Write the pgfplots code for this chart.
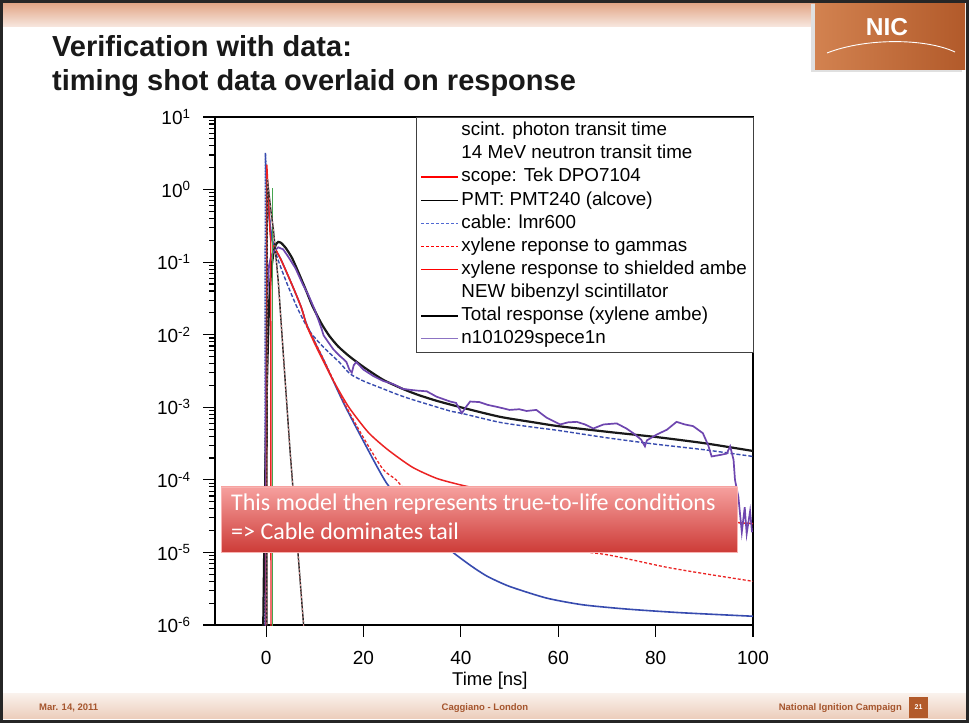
\documentclass[border=0pt]{standalone}
\usepackage{pgfplots}
\pgfplotsset{compat=1.18}
\usepackage{fontspec}
\setmainfont{Liberation Sans}
\newfontfamily\calibri{Carlito}
\definecolor{cblue}{RGB}{55,75,175}
\definecolor{cbluel}{RGB}{80,105,210}
\definecolor{cred}{RGB}{235,35,35}
\definecolor{cpurple}{RGB}{110,70,175}
\definecolor{cpurplel}{RGB}{140,115,195}
\definecolor{cgreen}{RGB}{70,165,80}
\definecolor{cblack}{RGB}{25,25,25}
\definecolor{pmtpink}{RGB}{215,140,140}
\definecolor{nicA}{RGB}{210,130,80}
\definecolor{nicB}{RGB}{178,90,42}
\definecolor{bandA}{RGB}{226,168,138}
\definecolor{bandB}{RGB}{248,232,224}
\definecolor{footA}{RGB}{250,242,237}
\definecolor{footB}{RGB}{236,206,188}
\definecolor{footbrown}{RGB}{165,85,45}
\definecolor{calloutA}{RGB}{246,160,158}
\definecolor{calloutB}{RGB}{205,60,56}
\pgfplotsset{
  limg/.style={legend image code/.code={\draw[#1] (0pt,0pt) -- (37pt,0pt);}},
}
\begin{document}
\begin{tikzpicture}
\begin{scope}[x=1pt,y=1pt]
\useasboundingbox (0,0) rectangle (969,723);
\fill[white] (0,0) rectangle (969,723);
\shade[top color=bandA, bottom color=bandB] (3,696) rectangle (815,719);
\fill[black!12] (811,651) rectangle (962,719);
\shade[left color=nicA, right color=nicB] (815,653) rectangle (965,720);
\node[anchor=base, inner sep=0, text=white, font=\bfseries\fontsize{24.5}{24.5}\selectfont] at (887,687) {NIC};
\draw[white, line width=0.9pt] (827,670) .. controls (865,685) and (925,685) .. (955,671);
\shade[top color=footA, bottom color=footB] (3,5) rectangle (966,30);
\node[anchor=west, inner sep=0, text=footbrown, font=\bfseries\fontsize{9.5}{9.5}\selectfont] at (39,15) {Mar. 14, 2011};
\node[anchor=center, inner sep=0, text=footbrown, font=\bfseries\fontsize{9.5}{9.5}\selectfont] at (485,15) {Caggiano - London};
\node[anchor=east, inner sep=0, text=footbrown, font=\bfseries\fontsize{9.5}{9.5}\selectfont] at (902,15) {National Ignition Campaign};
\fill[nicB] (909,5) rectangle (928,26);
\node[inner sep=0, text=white, font=\bfseries\fontsize{7}{7}\selectfont] at (918.5,15.5) {21};
\node[anchor=base west, inner sep=0, text=black!90, font=\bfseries\fontsize{29}{34}\selectfont] at (52,666) {Verification with data:};
\node[anchor=base west, inner sep=0, text=black!90, font=\bfseries\fontsize{29}{34}\selectfont] at (52,632) {timing shot data overlaid on response};
\end{scope}
\begin{axis}[
  at={(215pt,98pt)}, anchor=south west, scale only axis,
  width=538pt, height=508pt,
  xmin=-10.5, xmax=100, ymin=1e-6, ymax=10,
  ymode=log, log basis y=10,
  xtick={0,20,40,60,80,100},
  xtick pos=bottom, ytick pos=left,
  tick align=outside,
  major tick length=12pt, minor tick length=6pt,
  every tick/.style={black, line width=1.1pt},
  axis line style={line width=1.5pt},
  /pgf/number format/assume math mode=true,
  ticklabel style={font=\fontsize{19}{19}\selectfont},
  xticklabel style={yshift=-11pt},
  yticklabel style={xshift=-9pt},
  yticklabel={\pgfmathtruncatemacro\e{round(\tick)}10\textsuperscript{\e}},
  xlabel={Time [ns]},
  xlabel style={font=\fontsize{18.5}{18.5}\selectfont, at={(axis description cs:0.511,0)}, anchor=base, yshift=-60pt},
  legend style={at={(1,1)}, anchor=north east, draw=black!75,
    fill=white, font=\fontsize{18.8}{18.8}\selectfont,
    inner xsep=4pt, inner ysep=2pt, row sep=0pt,
    cells={anchor=west},
    nodes={inner xsep=2pt, inner ysep=2.3pt, text height=14.2pt, text depth=4.3pt},
    /tikz/every even column/.append style={column sep=10pt}},
  clip=true,
]
% blue long tail (cable)
\addplot[forget plot, cblue, line width=1.4pt, dash pattern=on 4pt off 2pt, smooth, tension=0.4] coordinates {
(0.4,0.7) (0.9,0.3) (1.5,0.16) (2.2,0.12) (3.0,0.085) (4.6,0.045) (6.6,0.022) (9.0,0.011) (12.0,0.0065) (15.0,0.0042) (17.2,0.0029) (20.0,0.0023) (24.0,0.0018) (27.0,0.0015) (30.0,0.00128) (38.0,0.00088) (40.0,0.00083) (48.0,0.00062) (55.0,0.00053) (60.0,0.00048) (70.0,0.00038) (80.0,0.00031) (90.0,0.00026) (100.0,0.00021)};
% blue spike
\addplot[forget plot, cblue, line width=1.6pt, dash pattern=on 2pt off 1pt] coordinates {
(-0.25,9e-7) (-0.15,3.2) (0.1,1.2) (0.4,0.6) (0.9,0.28) (1.5,0.17)};
% steep blue
\addplot[forget plot, cblue, line width=1.6pt, smooth, tension=0.4] coordinates {
(0.4,0.6) (0.9,0.28) (1.5,0.17) (3.0,0.11) (4.6,0.063) (6.0,0.038) (7.3,0.023) (8.3,0.014) (10.0,0.0079) (12.0,0.0042) (15.9,0.00115) (20.0,0.00034) (24.8,8.9e-5) (30.0,3.55e-5) (35.0,1.66e-5) (38.0,1.05e-5) (42.0,6.6e-6) (45.4,4.7e-6) (50.0,3.4e-6) (57.6,2.35e-6) (65.0,1.9e-6) (74.0,1.66e-6) (85.0,1.48e-6) (100.0,1.32e-6)};
% red dashed (gammas)
\addplot[forget plot, cred, line width=1.3pt, dash pattern=on 3pt off 2pt, smooth, tension=0.4] coordinates {
(1.5,0.17) (3.0,0.11) (4.6,0.063) (6.0,0.038) (7.3,0.023) (8.3,0.014) (10.0,0.008) (12.0,0.0043) (15.9,0.0012) (20.0,0.00038) (24.0,0.00014) (26.7,1e-4) (30.0,5.6e-5) (35.0,3.16e-5) (40.0,2.24e-5) (50.0,1.48e-5) (60.0,1.12e-5) (70.0,9.3e-6) (82.0,6.3e-6) (90.0,5.1e-6) (100.0,4.0e-6)};
% red solid (shielded ambe)
\addplot[forget plot, cred, line width=1.5pt, smooth, tension=0.4] coordinates {
(1.5,0.17) (3.0,0.11) (4.6,0.063) (6.0,0.038) (7.3,0.023) (8.3,0.0135) (10.0,0.0075) (12.0,0.004) (14.0,0.0022) (17.0,0.001) (21.0,0.00045) (25.0,0.00026) (30.0,0.00015) (35.0,0.000105) (40.0,8.5e-5) (45.0,7.2e-5) (50.0,6.3e-5) (60.0,4.8e-5) (70.0,3.8e-5) (80.0,3.2e-5) (90.0,2.75e-5) (100.0,2.5e-5)};
% black total response
\addplot[forget plot, cblack, line width=2.2pt, smooth, tension=0.4] coordinates {
(-0.6,9e-7) (-0.3,3.2e-5) (0,6.3e-4) (0.3,5e-3) (0.6,0.025) (1.0,0.071) (1.5,0.132) (2.0,0.174) (2.5,0.19) (3.0,0.186) (4.0,0.158) (5.3,0.115) (6.5,0.076) (8.0,0.044) (9.5,0.025) (11.4,0.0141) (13.0,0.0096) (14.8,0.0069) (17.0,0.0051) (20.0,0.0036) (24.0,0.0024) (28.0,0.0018) (31.0,0.0015) (35.0,0.00123) (40.0,0.001) (48.0,0.00074) (55.0,0.00062) (60.0,0.00055) (70.0,0.00046) (80.0,0.00039) (90.0,0.00032) (100.0,0.00025)};
% purple data
\addplot[forget plot, cpurple, line width=1.7pt] coordinates {
(-0.3,9e-7) (-0.1,9e-7) (-0.05,0.002) (0.2,0.03) (0.6,0.09) (1.0,0.12) (1.5,0.14) (2.5,0.16) (3.5,0.15) (4.5,0.12) (6.0,0.083) (7.5,0.05) (8.7,0.035) (10.0,0.022) (11.4,0.012) (11.8,0.0098) (13.0,0.0075) (13.8,0.0063) (15.0,0.0052) (15.9,0.0046) (16.5,0.0042) (17.1,0.0033) (17.6,0.003) (18.0,0.0038) (18.5,0.0042) (20.0,0.0033) (22.0,0.0027) (24.1,0.0023) (26.0,0.0021) (28.0,0.0018) (29.6,0.00174) (31.0,0.0017) (33.0,0.00166) (35.0,0.0014) (37.8,0.0012) (39.0,0.00115) (40.2,0.00083) (41.0,0.001) (41.9,0.0012) (43.8,0.00118) (45.5,0.00108) (47.8,0.001) (50.0,0.00092) (52.0,0.00094) (53.5,0.00089) (55.5,0.00092) (57.6,0.00072) (60.4,0.00058) (62.0,0.00062) (63.8,0.00063) (65.5,0.00058) (67.2,0.00051) (69.3,0.00058) (72.0,0.0006) (74.0,0.00051) (75.4,0.00044) (77.0,0.00036) (77.8,0.00029) (78.2,0.00035) (80.2,0.00042) (82.3,0.00049) (84.3,0.00063) (86.0,0.00058) (87.7,0.00055) (89.7,0.00044) (90.8,0.0003) (91.5,0.00021) (93.2,0.00022) (94.6,0.00023) (95.3,0.00029) (96.0,0.00019) (96.3,0.0001) (97.0,5.8e-5) (97.7,1.9e-5) (98.3,4.2e-5) (98.7,1.8e-5) (99.4,3.7e-5) (99.8,1.9e-5)};
% scope spike
\addplot[forget plot, cred, line width=1.4pt] coordinates {
(0.05,9e-7) (0.15,2.2) (0.5,0.7) (0.8,0.25) (0.95,0.2) (1.0,9e-7)};
% green
\addplot[forget plot, cgreen, line width=1.4pt] coordinates {(1.3,9e-7) (1.3,1.05)};
% PMT steep line
\addplot[forget plot, black!85, line width=1.4pt] coordinates {
(0.15,9e-7) (0.25,1.4) (1.0,0.5) (1.5,0.28) (2.5,0.054) (3.5,0.0058) (4.9,2.6e-4) (6.3,1.6e-5) (7.75,9e-7)};
\addplot[forget plot, pmtpink, line width=0.8pt, dash pattern=on 2pt off 2pt] coordinates {
(0.15,9e-7) (0.25,1.4) (1.0,0.5) (1.5,0.28) (2.5,0.054) (3.5,0.0058) (4.9,2.6e-4) (6.3,1.6e-5) (7.75,9e-7)};
% legend
\addlegendimage{legend image code/.code={}}
\addlegendentry{scint. photon transit time}
\addlegendimage{legend image code/.code={}}
\addlegendentry{14 MeV neutron transit time}
\addlegendimage{legend image code/.code={\draw[red, line width=1.2pt] (0pt,0pt) -- (37pt,0pt);}}
\addlegendentry{scope: Tek DPO7104}
\addlegendimage{legend image code/.code={\draw[black, line width=1pt] (0pt,0pt) -- (37pt,0pt);}}
\addlegendentry{PMT: PMT240 (alcove)}
\addlegendimage{legend image code/.code={\draw[cbluel, line width=1.2pt, dash pattern=on 3pt off 2pt] (0pt,0pt) -- (37pt,0pt);}}
\addlegendentry{cable: lmr600}
\addlegendimage{legend image code/.code={\draw[red, line width=1.2pt, dash pattern=on 3pt off 2pt] (0pt,0pt) -- (37pt,0pt);}}
\addlegendentry{xylene reponse to gammas}
\addlegendimage{legend image code/.code={\draw[red, line width=1.2pt] (0pt,0pt) -- (37pt,0pt);}}
\addlegendentry{xylene response to shielded ambe}
\addlegendimage{legend image code/.code={}}
\addlegendentry{NEW bibenzyl scintillator}
\addlegendimage{legend image code/.code={\draw[black, line width=2pt] (0pt,0pt) -- (37pt,0pt);}}
\addlegendentry{Total response (xylene ambe)}
\addlegendimage{legend image code/.code={\draw[cpurplel, line width=1.4pt] (0pt,0pt) -- (37pt,0pt);}}
\addlegendentry{n101029spece1n}
\end{axis}
\begin{scope}[x=1pt,y=1pt]
\shade[top color=calloutA, bottom color=calloutB] (221,171) rectangle (737,236);
\draw[calloutA!80!white, line width=0.6pt] (221,171) rectangle (737,236);
\node[anchor=base west, inner sep=0, text=white, font=\calibri\fontsize{24}{24}\selectfont] at (231,212) {This model then represents true-to-life conditions};
\node[anchor=base west, inner sep=0, text=white, font=\calibri\fontsize{24}{24}\selectfont] at (231,183) {=> Cable dominates tail};
\draw[black!85, line width=3pt] (1.5,1.5) rectangle (967.5,721.5);
\end{scope}
\end{tikzpicture}
\end{document}
